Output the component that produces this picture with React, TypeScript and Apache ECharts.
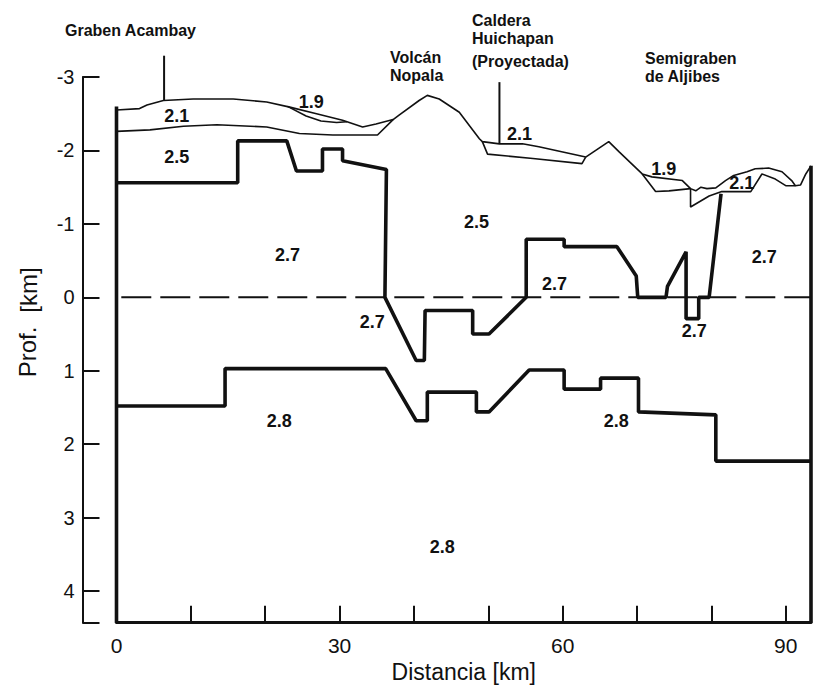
import React, { useEffect, useRef } from "react";
import * as echarts from "echarts";

// ---- Data (x: distance km, y: depth km; negative = above sea level) ----
const xTicks = [0, 30, 60, 90];
const yTicks = [-3, -2, -1, 0, 1, 2, 3, 4];
const X_MAX = 93.4;
const Y_MIN = -3;
const Y_MAX = 4.43;

const topography: number[][] = [
  [0, -2.55], [3.1, -2.57], [4.1, -2.62], [6.3, -2.68], [10.3, -2.7], [15.7, -2.7],
  [20.2, -2.66], [23.3, -2.59], [26.9, -2.5], [30.4, -2.41], [33.1, -2.32], [34.9, -2.36],
  [37.2, -2.42], [38.0, -2.48], [40.7, -2.68], [41.8, -2.75], [43.4, -2.7], [46.1, -2.52],
  [48.8, -2.16], [49.2, -2.12], [51.5, -2.09], [54.6, -2.09], [56.8, -2.05], [59.1, -2.0],
  [63.1, -1.91], [66.2, -2.12], [67.6, -1.98], [70.7, -1.68], [72.0, -1.64], [76.1, -1.59],
  [77.2, -1.48], [77.9, -1.45], [78.6, -1.5], [79.4, -1.48], [80.6, -1.49], [81.9, -1.59],
  [83.0, -1.66], [84.8, -1.71], [85.9, -1.75], [87.7, -1.76], [89.5, -1.71], [90.8, -1.59],
  [91.3, -1.52], [92.0, -1.53], [92.7, -1.68], [93.4, -1.79],
];
const base21West: number[][] = [
  [0, -2.26], [4.5, -2.28], [9, -2.33], [13.5, -2.35], [20.2, -2.32], [24.6, -2.23],
  [29.1, -2.21], [35.1, -2.21], [37.2, -2.42],
];
const lens19West: number[][] = [
  [23.0, -2.6], [25.5, -2.47], [27.5, -2.4], [29.6, -2.38], [31.0, -2.39],
];
const lens21Caldera: number[][] = [
  [49.2, -2.12], [49.9, -1.95], [56.0, -1.89], [62.6, -1.82], [63.1, -1.91],
];
const lens19East: number[][] = [
  [70.7, -1.68], [72.5, -1.44], [74.3, -1.45], [77.2, -1.48],
];
const lens21East: number[][] = [
  [77.2, -1.48], [77.2, -1.23], [79.7, -1.38], [81.4, -1.44], [85.3, -1.44], [86.8, -1.68],
  [88.6, -1.61], [90.0, -1.52], [91.3, -1.52],
];
const top27: number[][] = [
  [0, -1.56], [16.3, -1.56], [16.3, -2.13], [22.9, -2.13], [24.2, -1.72], [27.7, -1.72],
  [27.7, -2.02], [30.4, -2.02], [30.4, -1.86], [36.3, -1.74], [36.1, 0], [40.3, 0.86],
  [41.4, 0.86], [41.5, 0.18], [47.9, 0.18], [47.9, 0.5], [50.1, 0.5], [55.1, 0],
  [55.1, -0.79], [60.2, -0.79], [60.2, -0.69], [67.3, -0.69], [69.9, -0.29], [70.1, 0],
  [73.9, 0], [74.1, -0.15], [76.6, -0.62], [76.6, 0.29], [78.3, 0.29], [78.3, 0],
  [79.7, 0], [81.3, -1.41],
];
const top28: number[][] = [
  [0, 1.48], [14.6, 1.48], [14.6, 0.97], [36.2, 0.97], [40.3, 1.68], [41.8, 1.68],
  [41.8, 1.29], [48.4, 1.29], [48.4, 1.56], [50.1, 1.56], [55.5, 0.99], [60.2, 0.99],
  [60.2, 1.25], [65.1, 1.25], [65.1, 1.1], [70.2, 1.1], [70.2, 1.56], [80.6, 1.6],
  [80.6, 2.23], [93.4, 2.23],
];
const westEdge: number[][] = [[0, -2.6], [0, Y_MAX]];
const eastEdge: number[][] = [[93.4, -1.79], [93.4, Y_MAX]];
const markerAcambay: number[][] = [[6.4, -3.29], [6.4, -2.68]];
const markerHuichapan: number[][] = [[51.5, -2.93], [51.5, -2.09]];
const seaLevel: number[][] = [[-4.6, 0], [93.4, 0]];

const densityLabels: [number, number, string][] = [
  [8.1, -2.47, "2.1"], [26.2, -2.66, "1.9"], [8.1, -1.91, "2.5"], [23.0, -0.57, "2.7"],
  [48.4, -1.03, "2.5"], [54.2, -2.23, "2.1"], [73.6, -1.75, "1.9"], [84.1, -1.55, "2.1"],
  [87.1, -0.55, "2.7"], [58.9, -0.18, "2.7"], [34.4, 0.33, "2.7"], [77.7, 0.46, "2.7"],
  [21.9, 1.68, "2.8"], [67.2, 1.68, "2.8"], [43.8, 3.4, "2.8"],
];

const siteLabels: [string, number, number][] = [
  ["Graben Acambay", 65, 30],
  ["Volcán\nNopala", 390, 66],
  ["Caldera\nHuichapan", 472, 29],
  ["(Proyectada)", 472, 61],
  ["Semigraben\nde Aljibes", 645, 67],
];

const FONT = "'Liberation Sans', Arial, sans-serif";
const INK = "#111";

function lineSeries(data: number[][], width: number, extra: any = {}) {
  return {
    type: "line",
    data,
    symbol: "none",
    showSymbol: false,
    clip: false,
    silent: true,
    lineStyle: { color: INK, width, ...extra },
    z: 3,
  };
}

export default function App() {
  const ref = useRef<HTMLDivElement>(null);
  useEffect(() => {
    if (!ref.current) return;
    const chart = echarts.init(ref.current, null, { renderer: "svg" });
    chart.setOption({
      animation: false,
      backgroundColor: "#fff",
      grid: { left: 116.5, right: 2, top: 77, bottom: 69.3, containLabel: false },
      xAxis: {
        type: "value",
        min: 0,
        max: X_MAX,
        interval: 10,
        axisLine: { show: true, onZero: false, lineStyle: { color: INK, width: 3 } },
        axisTick: { show: true, inside: true, length: 17, lineStyle: { color: INK, width: 2 } },
        splitLine: { show: false },
        axisLabel: {
          margin: 12,
          fontSize: 21,
          fontFamily: FONT,
          color: INK,
          formatter: (v: number) => (xTicks.includes(Math.round(v * 100) / 100) ? String(v) : ""),
        },
        name: "Distancia [km]",
        nameLocation: "middle",
        nameGap: 38,
        nameTextStyle: { fontSize: 23, fontFamily: FONT, color: INK },
      },
      yAxis: {
        type: "value",
        inverse: true,
        min: Y_MIN,
        max: Y_MAX,
        interval: 1,
        offset: 34,
        axisLine: { show: true, onZero: false, lineStyle: { color: INK, width: 2 } },
        axisTick: { show: true, inside: true, length: 17, lineStyle: { color: INK, width: 2 } },
        splitLine: { show: false },
        axisLabel: {
          margin: 8,
          fontSize: 20,
          fontFamily: FONT,
          color: INK,
          formatter: (v: number) => {
            const r = Math.round(v * 100) / 100;
            return yTicks.includes(r) ? (r < 0 ? "-" + Math.abs(r) : String(r)) : "";
          },
        },
      },
      graphic: [
        ...siteLabels.map(([text, x, y]) => ({
          type: "text",
          x,
          y,
          style: {
            text,
            fontSize: 16,
            fontWeight: "bold",
            lineHeight: 18,
            fontFamily: FONT,
            fill: INK,
            align: "left",
            verticalAlign: "middle",
          },
        })),
        {
          type: "text",
          x: 27,
          y: 352,
          rotation: Math.PI / 2,
          style: { text: "Prof.", fontSize: 24, fontFamily: FONT, fill: INK, align: "center", verticalAlign: "middle" },
        },
        {
          type: "text",
          x: 28,
          y: 290,
          rotation: Math.PI / 2,
          style: { text: "[km]", fontSize: 24, fontFamily: FONT, fill: INK, align: "center", verticalAlign: "middle" },
        },
      ],
      series: [
        lineSeries(seaLevel, 2, { type: [30, 9] }),
        lineSeries(topography, 1.6),
        lineSeries(base21West, 1.6),
        lineSeries(lens19West, 1.6),
        lineSeries(lens21Caldera, 1.6),
        lineSeries(lens19East, 1.6),
        lineSeries(lens21East, 1.6),
        lineSeries(markerAcambay, 2),
        lineSeries(markerHuichapan, 2),
        lineSeries(top27, 3.6),
        lineSeries(top28, 3.6),
        lineSeries(westEdge, 3.6),
        lineSeries(eastEdge, 3.6),
        {
          type: "scatter",
          data: densityLabels.map(([x, y, t]) => ({ value: [x, y], name: t })),
          symbolSize: 1,
          itemStyle: { color: "transparent", opacity: 1 },
          silent: true,
          z: 4,
          label: {
            show: true,
            position: "inside",
            formatter: "{b}",
            fontSize: 18,
            fontWeight: "bold",
            fontFamily: FONT,
            color: INK,
            opacity: 1,
            textBorderWidth: 0,
            textBorderColor: "transparent",
          },
        },
      ],
    });
    return () => chart.dispose();
  }, []);
  return (
    <div
      ref={ref}
      style={{ position: "fixed", left: 0, top: 0, width: 814, height: 692, background: "#fff" }}
    />
  );
}
